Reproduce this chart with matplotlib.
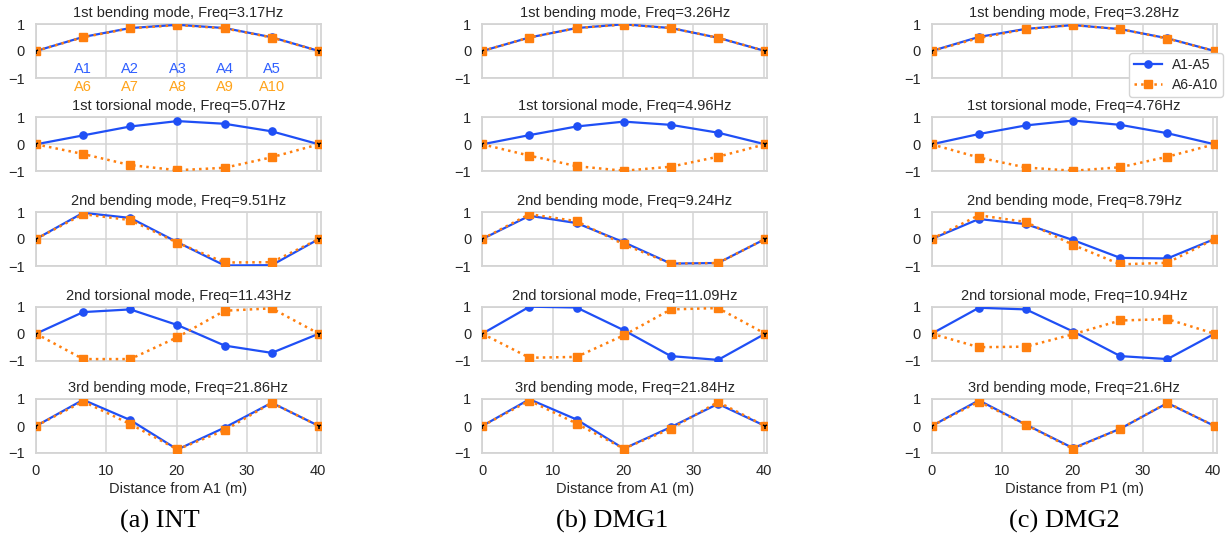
import matplotlib
matplotlib.use("Agg")
import matplotlib.pyplot as plt

# ---------------- data ----------------
stations = [0, 6.7, 13.4, 20.1, 26.8, 33.5, 40.2]
xticks = [0, 10, 20, 30, 40]
yticks = [-1, 0, 1]
series_names = ["A1-A5", "A6-A10"]
top_labels = ["A1", "A2", "A3", "A4", "A5"]
bottom_labels = ["A6", "A7", "A8", "A9", "A10"]
mode_names = ["1st bending mode", "1st torsional mode", "2nd bending mode",
              "2nd torsional mode", "3rd bending mode"]
panel_captions = ["(a) INT", "(b) DMG1", "(c) DMG2"]
xlabels = ["Distance from A1 (m)", "Distance from A1 (m)", "Distance from P1 (m)"]

freq_int = ["3.17", "5.07", "9.51", "11.43", "21.86"]
freq_dmg1 = ["3.26", "4.96", "9.24", "11.09", "21.84"]
freq_dmg2 = ["3.28", "4.76", "8.79", "10.94", "21.6"]

# INT
int_a1a5 = [
    [0, 0.52, 0.85, 0.97, 0.85, 0.51, 0],
    [0, 0.33, 0.66, 0.86, 0.76, 0.48, 0],
    [0, 0.97, 0.78, -0.12, -0.98, -0.97, 0],
    [0, 0.80, 0.90, 0.32, -0.44, -0.71, 0],
    [0, 0.97, 0.22, -0.87, -0.06, 0.86, 0],
]
int_a6a10 = [
    [0, 0.51, 0.84, 0.96, 0.84, 0.50, 0],
    [0, -0.36, -0.77, -0.96, -0.87, -0.48, 0],
    [0, 0.92, 0.70, -0.14, -0.87, -0.86, 0],
    [0, -0.94, -0.94, -0.13, 0.85, 0.94, 0],
    [0, 0.91, 0.07, -0.87, -0.16, 0.86, 0],
]
# DMG1
dmg1_a1a5 = [
    [0, 0.50, 0.85, 0.99, 0.85, 0.49, 0],
    [0, 0.34, 0.66, 0.84, 0.72, 0.43, 0],
    [0, 0.86, 0.59, -0.12, -0.91, -0.89, 0],
    [0, 1.00, 0.97, 0.13, -0.83, -0.97, 0],
    [0, 0.99, 0.24, -0.84, -0.04, 0.82, 0],
]
dmg1_a6a10 = [
    [0, 0.50, 0.85, 0.98, 0.85, 0.49, 0],
    [0, -0.42, -0.81, -0.98, -0.83, -0.46, 0],
    [0, 0.92, 0.66, -0.20, -0.91, -0.89, 0],
    [0, -0.89, -0.86, -0.06, 0.90, 0.95, 0],
    [0, 0.94, 0.09, -0.84, -0.10, 0.89, 0],
]
# DMG2
dmg2_a1a5 = [
    [0, 0.52, 0.82, 0.96, 0.81, 0.47, 0],
    [0, 0.38, 0.70, 0.88, 0.72, 0.41, 0],
    [0, 0.74, 0.55, -0.04, -0.70, -0.72, 0],
    [0, 0.96, 0.90, 0.08, -0.83, -0.94, 0],
    [0, 0.95, 0.05, -0.82, -0.10, 0.85, 0],
]
dmg2_a6a10 = [
    [0, 0.48, 0.81, 0.96, 0.81, 0.46, 0],
    [0, -0.49, -0.86, -0.98, -0.85, -0.46, 0],
    [0, 0.88, 0.63, -0.22, -0.94, -0.88, 0],
    [0, -0.50, -0.48, -0.02, 0.49, 0.54, 0],
    [0, 0.90, 0.05, -0.85, -0.10, 0.86, 0],
]

panels = [
    (int_a1a5, int_a6a10, freq_int, True),
    (dmg1_a1a5, dmg1_a6a10, freq_dmg1, True),
    (dmg2_a1a5, dmg2_a6a10, freq_dmg2, False),
]

# ---------------- style ----------------
plt.rcParams["font.family"] = ["Liberation Sans", "DejaVu Sans"]
plt.rcParams["axes.unicode_minus"] = True
BLUE = "#1f4ff5"
ORANGE = "#ff7f0e"
BLUE_TXT = "#3060ff"
ORANGE_TXT = "#ffa31a"
GRID = "#d4d4d4"
TXT = "#262626"

W, H = 1227, 539
fig = plt.figure(figsize=(W / 100, H / 100), dpi=100)

col_left_px = [36, 482.3, 931.7]
col_width_px = 285
row_top_px = [24, 117.3, 212, 306.7, 399]
row_h_px = 54
caption_x_px = [160, 612, 1064]
caption_y_px = 521

for c, (sa, sb, freqs, right_support) in enumerate(panels):
    for r in range(5):
        left = col_left_px[c] / W
        bottom = 1 - (row_top_px[r] + row_h_px) / H
        ax = fig.add_axes([left, bottom, col_width_px / W, row_h_px / H])
        ax.set_facecolor("white")
        ax.grid(True, color=GRID, linewidth=1.1)
        ax.set_axisbelow(True)
        for s in ax.spines.values():
            s.set_color(GRID)
            s.set_linewidth(1.3)
        ax.plot(stations, sa[r], "-", color=BLUE, lw=1.6, marker="o", ms=5.2,
                label=series_names[0], zorder=3)
        ax.plot(stations, sb[r], ":", color=ORANGE, lw=1.8, marker="s", ms=5.2,
                label=series_names[1], zorder=4)
        # support markers
        sx = [stations[0], stations[-1]] if right_support else [stations[0]]
        ax.plot(sx, [0] * len(sx), linestyle="none", marker="1", color="black",
                ms=4, mew=1.1, zorder=5)
        ax.set_xlim(0, 40.5)
        ax.set_ylim(-1, 1)
        ax.set_xticks(xticks)
        ax.set_yticks(yticks)
        ax.tick_params(axis="y", length=0, labelsize=10.5, colors=TXT, pad=8)
        ax.tick_params(axis="x", length=0, labelsize=10.5, colors=TXT, pad=8)
        if r < 4:
            ax.set_xticklabels([])
        else:
            ax.set_xlabel(xlabels[c], fontsize=10.5, color=TXT, labelpad=3)
        ax.set_title(f"{mode_names[r]}, Freq={freqs[r]}Hz", fontsize=10.5,
                     color=TXT, pad=5)
        if c == 0 and r == 0:
            for i, lab in enumerate(top_labels):
                ax.text(stations[i + 1], -0.65, lab, color=BLUE_TXT, fontsize=10.5,
                        ha="center", va="center")
            for i, lab in enumerate(bottom_labels):
                ax.text(stations[i + 1], -1.35, lab, color=ORANGE_TXT, fontsize=10.5,
                        ha="center", va="center", clip_on=False)
        if c == 2 and r == 0:
            h = ax.get_legend_handles_labels()
            leg = ax.legend(h[0][:2], h[1][:2], loc="upper right",
                            bbox_to_anchor=(1.021, 0.46), borderaxespad=0,
                            fontsize=10, frameon=True, framealpha=1,
                            edgecolor=GRID, fancybox=True, handlelength=2.0,
                            handletextpad=0.7, borderpad=0.35,
                            labelspacing=0.45)
            leg.set_zorder(10)
            for t in leg.get_texts():
                t.set_color(TXT)
    fig.text(caption_x_px[c] / W, 1 - caption_y_px / H, panel_captions[c],
             fontsize=19, family=["Liberation Serif", "DejaVu Serif"],
             ha="center", va="center", color="black")

fig.savefig("out.png", dpi=100)
